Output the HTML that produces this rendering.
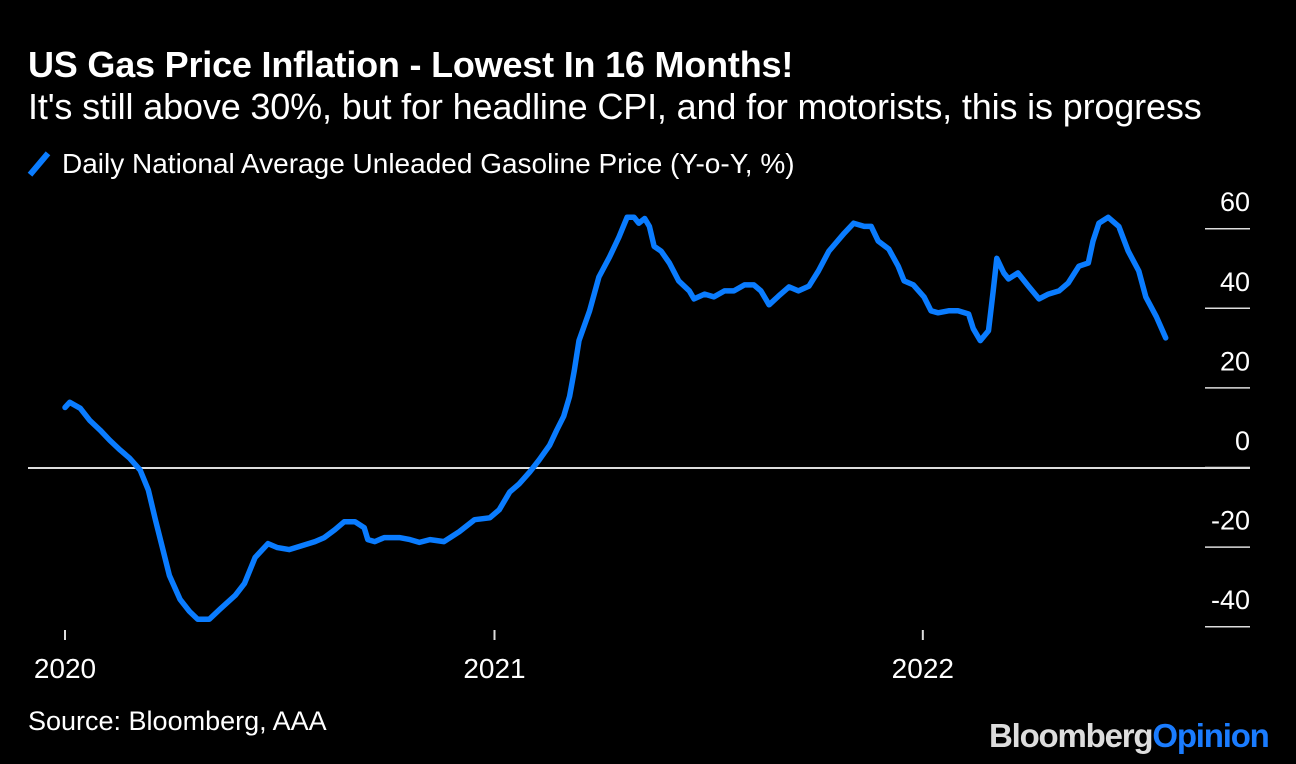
<!DOCTYPE html>
<html><head><meta charset="utf-8"><style>
body{margin:0;background:#000;width:1296px;height:764px;overflow:hidden;font-family:"Liberation Sans",sans-serif;color:#fff}
.t{position:absolute;white-space:nowrap}
</style></head><body>
<div class="t" style="left:28px;top:44px;font-size:36px;font-weight:bold;letter-spacing:-0.2px">US Gas Price Inflation - Lowest In 16 Months!</div>
<div class="t" style="left:28px;top:86px;font-size:36px;letter-spacing:-0.15px">It's still above 30%, but for headline CPI, and for motorists, this is progress</div>
<div class="t" style="left:28px;top:148px;font-size:28px"><span style="display:inline-block;width:6px;height:28px;background:#0a7cff;transform:rotate(40deg);vertical-align:-5px;margin:0 20px 0 8px"></span>Daily National Average Unleaded Gasoline Price (Y-o-Y, %)</div>
<svg id="chart" width="1296" height="764" style="position:absolute;left:0;top:0"></svg>
<div class="t" style="left:28px;top:706px;font-size:27px">Source: Bloomberg, AAA</div>
<div class="t" style="left:989px;top:717px;font-size:33px;font-weight:bold;letter-spacing:-1.2px"><span style="color:#ddd">Bloomberg</span><span style="color:#1a7cff">Opinion</span></div>
<script>
const days=[0,4,13,21,30,38,47,55,64,71,77,83,89,98,106,113,123,132,145,153,162,173,181,191,200,213,221,230,238,247,255,258,264,272,285,294,302,311,323,336,349,362,370,379,387,396,404,413,419,425,430,434,438,447,455,464,472,479,485,489,494,498,502,508,515,523,532,536,545,553,562,570,579,587,593,600,608,617,625,634,642,651,664,672,681,687,693,702,710,715,723,732,738,744,753,761,770,774,780,787,791,794,800,804,812,821,830,838,847,855,864,872,876,881,889,898,906,915,921,930,938];
const values=[15.2,16.5,15,12,9.5,7,4.5,2.5,-0.5,-5.5,-13,-20,-27,-33,-36,-38,-38,-35.5,-32,-29,-22.5,-19,-20,-20.5,-19.7,-18.5,-17.5,-15.5,-13.5,-13.5,-15,-18,-18.5,-17.5,-17.5,-18,-18.7,-18,-18.5,-16,-13,-12.5,-10.5,-6,-4,-1,2,5.75,9.5,13,18,24.5,32,39.5,48,53,58,63,63,61.5,62.7,60.7,55.7,54.5,51.5,47,44.5,42.5,43.7,43,44.5,44.5,46,46,44.5,41,43.2,45.5,44.5,45.7,49.5,54.5,59,61.5,60.7,60.7,57,55,50.7,47,46,43,39.5,39,39.5,39.5,38.7,35,32,34.5,44.5,52.7,49,47.5,49,45.7,42.5,43.7,44.5,46.5,50.7,51.5,57,61.5,63,60.7,54.5,49.5,43,38,32.7];
const yTicks=[60,40,20,0,-20,-40];
const xTickLabels=["2020","2021","2022"];
const xTickDays=[0,366,731];
const svg=document.getElementById('chart');
const NS='http://www.w3.org/2000/svg';
const X=d=>65+d*1.1735;
const Y=v=>468-v*3.98;
function mk(tag,attrs){const e=document.createElementNS(NS,tag);for(const k in attrs)e.setAttribute(k,attrs[k]);svg.appendChild(e);return e;}
const zl=mk('line',{x1:28,x2:1250,y1:Y(0),y2:Y(0),stroke:'#ddd','stroke-width':2});


yTicks.forEach(v=>{
 const l=mk('line',{x1:1205,x2:1250,y1:Y(v)-0.5,y2:Y(v)-0.5,stroke:'#ddd','stroke-width':1.5});
 
 
 const t=mk('text',{x:1250,y:Y(v)-18,'text-anchor':'end','font-size':27,fill:'#fff','font-family':'Liberation Sans, sans-serif'});
 t.textContent=v;
 
 
});
xTickDays.forEach((d,i)=>{
 const l=mk('line',{x1:X(d),x2:X(d),y1:630,y2:640,stroke:'#ddd','stroke-width':2});
 
 
 const t=mk('text',{x:X(d),y:678,'text-anchor':'middle','font-size':28,fill:'#fff','font-family':'Liberation Sans, sans-serif'});
 t.textContent=xTickLabels[i];
 
 
});
const p=mk('polyline',{points:days.map((d,i)=>X(d).toFixed(1)+','+Y(values[i]).toFixed(1)).join(' '),fill:'none',stroke:'#0a7cff','stroke-width':5.5,'stroke-linejoin':'round','stroke-linecap':'round'});


</script>
</body></html>
